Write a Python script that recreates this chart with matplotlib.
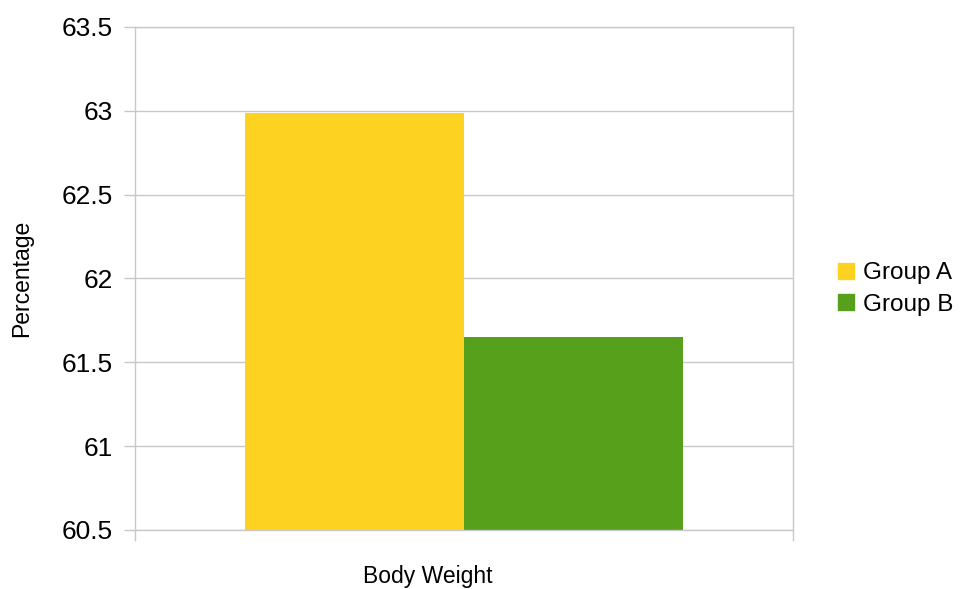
import matplotlib
matplotlib.use('Agg')
import matplotlib.pyplot as plt
from matplotlib.lines import Line2D

plt.rcParams['font.family'] = ['Liberation Sans', 'DejaVu Sans']

groups = ['Group A', 'Group B']
values = [62.985, 61.65]
colors = ['#FDD221', '#56A01C']
yticks = [60.5, 61, 61.5, 62, 62.5, 63, 63.5]

fig = plt.figure(figsize=(9.68, 5.89), dpi=100)
ax = fig.add_axes([0.1395, 0.1002, 0.6797, 0.8540])

w = 1 / 3
for i, (g, v, c) in enumerate(zip(groups, values, colors)):
    ax.bar(1 / 6 + w * i, v - 60.5, width=w, bottom=60.5, color=c, align='edge', label=g, zorder=2)

ax.set_xlim(0, 1)
ax.set_ylim(60.5, 63.5)
ax.set_yticks(yticks)
ax.set_yticklabels(['%g' % t for t in yticks], fontsize=19)
ax.set_xticks([0, 1])
ax.set_xticklabels(['', ''])
ax.tick_params(axis='y', length=8, width=1, color='#c8c8c8', pad=8)
ax.tick_params(axis='x', length=8, width=1, color='#c8c8c8')
ax.grid(axis='y', color='#c8c8c8', linewidth=1, zorder=0)
for s in ax.spines.values():
    s.set_color('#c8c8c8')
    s.set_linewidth(1)

fig.text(22 / 968, 1 - 278 / 589, 'Percentage', fontsize=16.5, rotation=90, ha='center', va='center')
fig.text(428 / 968, 1 - 577 / 589, 'Body Weight', fontsize=16.5, ha='center', va='center')

handles = [Line2D([], [], marker='s', linestyle='none', markersize=12, color=c) for c in colors]
fig.legend(handles, groups, loc='center left', bbox_to_anchor=(812 / 968, 1 - 289 / 589),
           frameon=False, fontsize=17.5, handletextpad=0.2, labelspacing=0.4, handlelength=1.0)

fig.savefig('out.png', dpi=100)
